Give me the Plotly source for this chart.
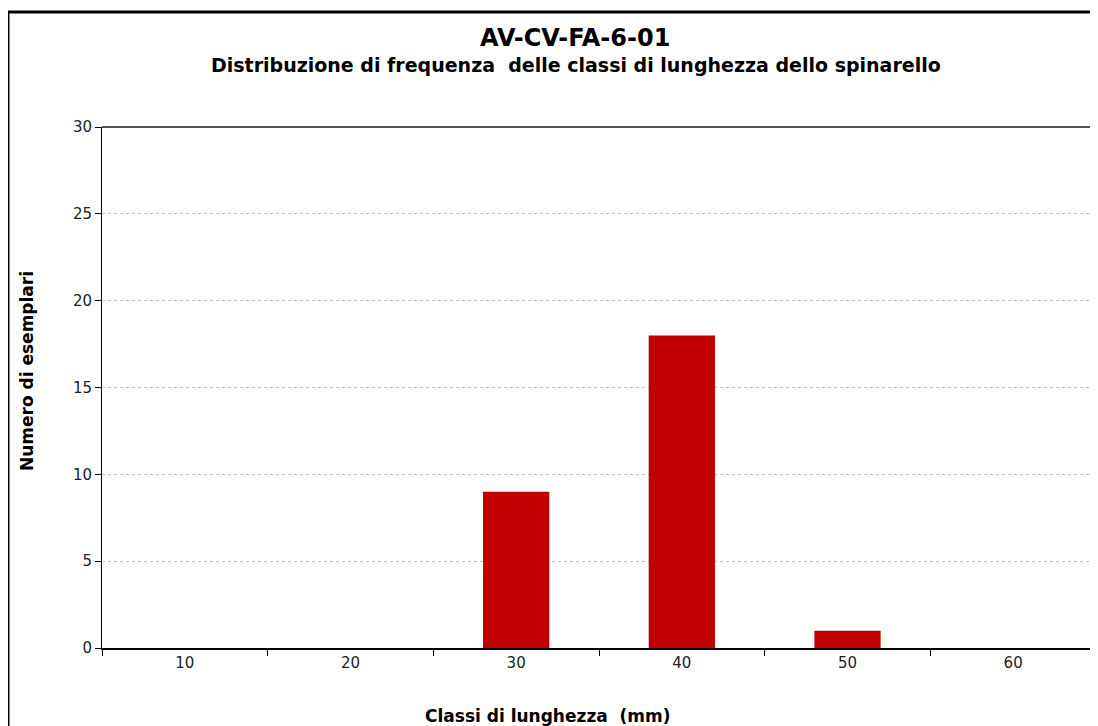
import plotly.graph_objects as go

# length classes (mm) and number of specimens
classi = ["10", "20", "30", "40", "50", "60"]
esemplari = [0, 0, 9, 18, 1, 0]
y_ticks = [0, 5, 10, 15, 20, 25, 30]

# page body has an 8px margin, so the figure is drawn 8px smaller/shifted
OFF = 8
W, H = 1098 - OFF, 726 - OFF
L, T = 102 - OFF, 127 - OFF
R, B = W - (1096 - OFF), H - (648 - OFF)
pw, ph = W - L - R, H - T - B


def px_x(x):
    return (x - OFF - L) / pw


def px_y(y):
    return (H - B - (y - OFF)) / ph


fig = go.Figure(go.Bar(x=classi, y=esemplari, marker_color="#C00000",
                       marker_line_width=0))

fig.update_layout(
    width=W, height=H,
    margin=dict(l=L, r=R, t=T, b=B),
    paper_bgcolor="white", plot_bgcolor="white",
    bargap=0.6, showlegend=False,
    font=dict(family="DejaVu Sans", size=15, color="#222"),
)

fig.update_xaxes(type="category", tickson="boundaries", ticks="outside",
                 ticklen=6, tickcolor="black", showline=True, linecolor="black",
                 linewidth=2, showgrid=False, tickfont=dict(size=15))
fig.update_yaxes(range=[0, 30], tickvals=y_ticks, ticks="outside", ticklen=6,
                 tickcolor="black", showline=True, linecolor="black", linewidth=1,
                 showgrid=True, gridcolor="#BDBDBD", griddash="dot", gridwidth=1,
                 zeroline=False, tickfont=dict(size=15))

lbl = dict(xref="paper", yref="paper", showarrow=False, yanchor="middle")
fig.add_annotation(text="<b>AV-CV-FA-6-01</b>", x=px_x(575), y=px_y(38),
                   xanchor="center", font=dict(size=24, color="black"), **lbl)
fig.add_annotation(text="<b>Distribuzione di frequenza  delle classi di lunghezza dello spinarello</b>",
                   x=px_x(576), y=px_y(65), xanchor="center",
                   font=dict(size=19, color="black"), **lbl)
fig.add_annotation(text="<b>Classi di lunghezza  (mm)</b>", x=px_x(423),
                   xanchor="left", y=px_y(716),
                   font=dict(size=17, color="black"), **lbl)
fig.add_annotation(text="<b>Numero di esemplari</b>", textangle=-90,
                   x=px_x(27), y=px_y(371), xanchor="center",
                   font=dict(size=17, color="black"), **lbl)

# top border of plot area
fig.add_shape(type="line", xref="paper", yref="paper", x0=0, x1=1, y0=1, y1=1,
              line=dict(color="#555", width=2))
# outer chart frame (cropped at right and bottom)
fig.add_shape(type="line", xref="paper", yref="paper", x0=px_x(8), x1=px_x(1110),
              y0=px_y(12), y1=px_y(12), line=dict(color="black", width=3))
fig.add_shape(type="line", xref="paper", yref="paper", x0=px_x(8), x1=px_x(8),
              y0=px_y(12), y1=px_y(740), line=dict(color="black", width=3))

fig.write_html("out.html")
